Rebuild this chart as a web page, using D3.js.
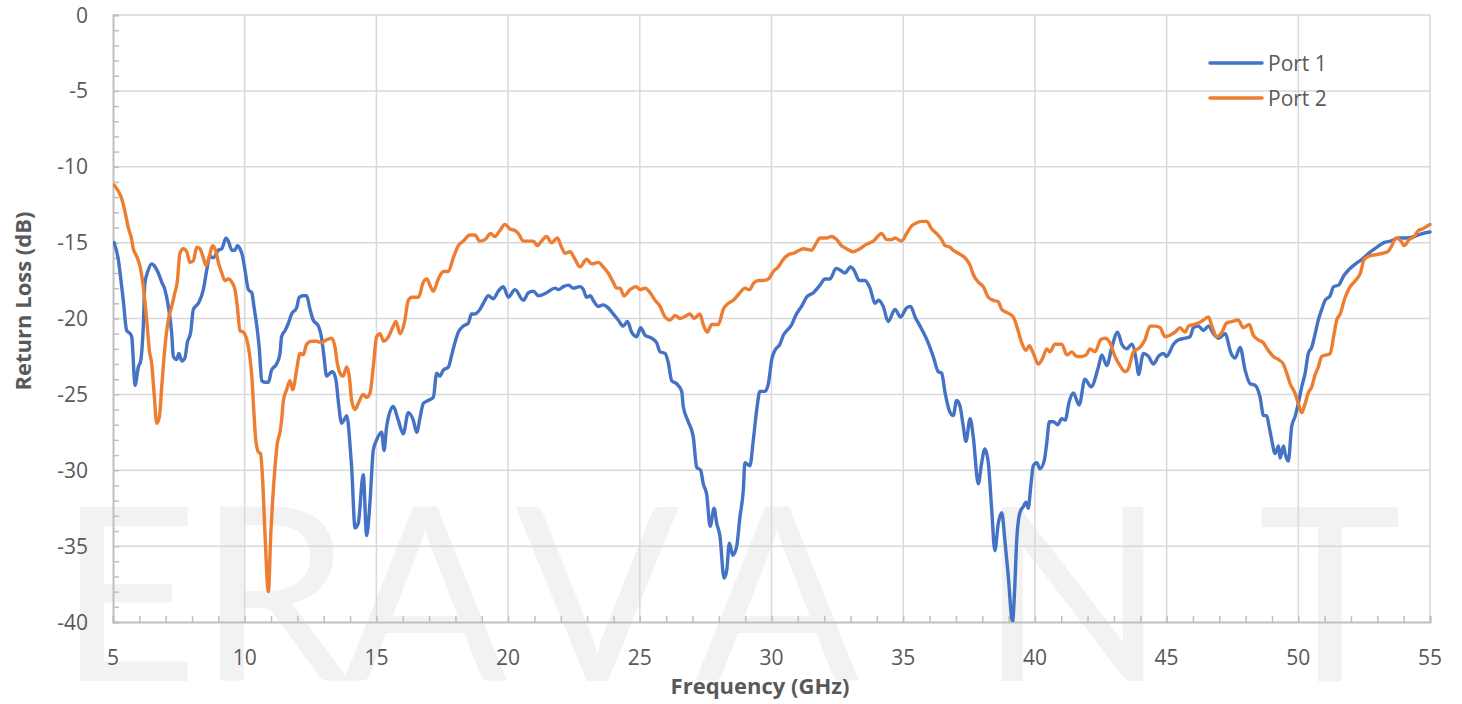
<!DOCTYPE html>
<html>
<head>
<meta charset="utf-8">
<script src="https://cdn.jsdelivr.net/npm/d3@7"></script>
<style>
  body { margin: 0; background: #fff; }
  svg { display: block; }
</style>
</head>
<body>
<svg id="chart" width="1462" height="704"></svg>
<script>

// return loss data (GHz / dB)
var port1Freq = [5.04,5.2,5.33,5.39,5.52,5.65,5.71,5.84,5.96,6.05,6.15,6.21,6.34,6.47,6.6,6.72,6.85,6.97,7.1,7.23,
  7.29,7.42,7.5,7.61,7.73,7.82,7.95,8.05,8.24,8.43,8.56,8.68,8.81,9.0,9.13,9.29,9.38,9.51,9.63,9.72,
  9.82,9.92,10.01,10.14,10.27,10.35,10.46,10.55,10.65,10.77,10.9,11.02,11.21,11.34,11.4,11.53,11.66,11.78,11.97,12.07,
  12.22,12.35,12.48,12.6,12.8,12.92,13.01,13.11,13.24,13.34,13.47,13.55,13.68,13.77,13.87,13.93,14.0,14.06,14.19,14.31,
  14.5,14.63,14.76,14.88,15.01,15.2,15.29,15.39,15.64,15.83,16.02,16.21,16.4,16.53,16.66,16.78,16.97,17.16,17.29,17.41,
  17.54,17.73,17.86,17.98,18.11,18.3,18.49,18.61,18.74,18.93,19.06,19.25,19.44,19.63,19.82,20.01,20.26,20.58,20.77,20.96,
  21.15,21.46,21.78,21.91,22.1,22.29,22.48,22.73,22.86,22.98,23.13,23.23,23.42,23.61,23.8,23.99,24.18,24.37,24.53,24.69,
  24.88,25.03,25.2,25.45,25.64,25.77,25.96,26.08,26.21,26.4,26.59,26.65,26.84,27.03,27.16,27.31,27.41,27.54,27.67,27.82,
  27.92,28.04,28.2,28.3,28.4,28.53,28.68,28.8,28.93,28.99,29.18,29.31,29.44,29.56,29.75,29.88,30.01,30.13,30.32,30.45,
  30.58,30.77,30.89,31.06,31.14,31.33,31.59,31.84,32.03,32.22,32.45,32.6,32.79,33.0,33.13,33.33,33.55,33.74,33.93,34.06,
  34.24,34.43,34.69,34.9,35.13,35.28,35.45,35.64,35.95,36.14,36.33,36.46,36.59,36.78,36.9,37.03,37.16,37.28,37.38,37.54,
  37.66,37.85,37.98,38.1,38.23,38.36,38.48,38.61,38.74,38.86,38.99,39.15,39.24,39.31,39.43,39.56,39.66,39.75,39.84,39.94,
  40.07,40.19,40.35,40.45,40.55,40.7,40.86,41.02,41.15,41.3,41.46,41.68,41.9,42.13,42.41,42.54,42.73,42.92,43.14,43.3,
  43.49,43.68,43.87,43.93,44.12,44.31,44.5,44.69,44.88,45.0,45.26,45.45,45.7,45.89,46.02,46.21,46.4,46.59,46.78,46.97,
  47.22,47.45,47.6,47.79,47.98,48.17,48.36,48.55,48.68,48.8,48.89,48.99,49.12,49.25,49.31,49.44,49.5,49.62,49.75,49.87,
  50.0,50.13,50.26,50.38,50.51,50.64,50.76,50.89,51.02,51.21,51.34,51.53,51.72,51.91,52.17,52.42,52.67,52.99,53.25,53.5,
  53.82,54.08,54.4,54.71,55.0];
var port1Loss = [-15.0,-16.1,-17.9,-18.8,-20.8,-21.0,-21.2,-24.4,-23.2,-22.8,-20.5,-17.7,-16.8,-16.4,-16.6,-17.0,-17.6,-18.1,-19.2,-21.0,
  -22.5,-22.7,-22.3,-22.8,-22.6,-21.6,-20.9,-19.4,-19.0,-18.1,-16.8,-15.9,-16.0,-15.5,-15.4,-14.7,-14.9,-15.5,-15.5,-15.2,
  -15.4,-15.9,-16.8,-18.1,-18.3,-19.2,-20.5,-21.9,-24.1,-24.2,-24.2,-23.4,-23.0,-22.3,-21.2,-20.8,-20.3,-19.7,-19.3,-18.6,
  -18.5,-18.5,-19.4,-20.1,-20.5,-21.3,-22.5,-23.8,-23.6,-23.5,-24.1,-25.4,-26.9,-26.7,-26.4,-26.9,-28.4,-29.8,-33.8,-33.5,
  -30.3,-34.3,-32.0,-28.7,-28.0,-27.5,-28.7,-27.1,-25.8,-26.7,-27.6,-26.2,-26.7,-27.5,-26.5,-25.6,-25.4,-25.2,-23.6,-23.8,
  -23.4,-23.2,-22.4,-21.6,-20.9,-20.5,-20.3,-19.7,-19.7,-19.4,-19.0,-18.5,-18.7,-18.2,-17.9,-18.6,-18.1,-18.8,-18.3,-18.2,
  -18.5,-18.3,-18.0,-18.1,-17.9,-17.8,-18.0,-17.9,-18.1,-18.6,-18.5,-18.8,-19.2,-19.1,-19.3,-19.7,-20.1,-20.5,-20.2,-20.9,
  -21.2,-20.6,-21.1,-21.3,-21.6,-22.2,-22.3,-22.9,-24.1,-24.3,-24.8,-25.8,-26.8,-27.8,-29.8,-30.0,-30.9,-31.6,-33.7,-32.5,
  -33.5,-34.3,-37.1,-36.6,-34.8,-35.6,-35.0,-33.1,-31.3,-29.5,-29.7,-28.0,-26.0,-24.8,-24.8,-24.3,-22.7,-22.1,-21.7,-21.1,
  -20.8,-20.4,-19.9,-19.4,-19.2,-18.6,-18.3,-17.8,-17.4,-17.4,-16.7,-16.8,-17.0,-16.6,-16.8,-17.5,-17.5,-18.0,-19.0,-18.8,
  -19.2,-20.2,-19.4,-19.9,-19.3,-19.2,-19.9,-20.5,-21.6,-22.5,-23.5,-23.6,-24.9,-26.2,-26.4,-25.4,-25.8,-27.1,-28.1,-26.6,
  -27.8,-30.9,-29.5,-28.6,-29.5,-32.6,-35.3,-33.5,-32.8,-34.6,-37.0,-40.0,-37.5,-34.6,-32.8,-32.4,-32.1,-32.5,-31.1,-29.7,
  -29.5,-29.9,-29.4,-28.2,-26.8,-26.8,-27.0,-26.6,-26.7,-25.5,-24.9,-25.7,-24.0,-24.5,-23.2,-22.4,-23.1,-21.9,-20.9,-21.7,
  -22.0,-21.7,-23.0,-23.7,-22.3,-22.5,-23.0,-22.5,-22.3,-22.5,-21.7,-21.4,-21.3,-21.2,-20.6,-20.5,-20.8,-20.5,-21.0,-21.3,
  -21.0,-22.3,-22.6,-21.9,-23.4,-24.3,-24.4,-25.2,-26.4,-26.4,-27.1,-28.0,-28.9,-28.4,-29.2,-28.4,-28.9,-29.4,-27.1,-26.5,
  -25.6,-24.5,-23.6,-22.3,-21.9,-21.0,-20.1,-19.4,-18.8,-18.5,-17.9,-17.8,-17.2,-16.8,-16.4,-16.1,-15.7,-15.3,-15.0,-14.9,
  -14.7,-14.7,-14.6,-14.4,-14.3];

var port2Freq = [5.04,5.2,5.33,5.46,5.58,5.71,5.77,5.9,6.03,6.15,6.28,6.38,6.47,6.56,6.66,6.76,6.85,6.97,7.1,7.23,
  7.35,7.44,7.54,7.67,7.8,7.92,8.05,8.18,8.3,8.43,8.53,8.66,8.78,8.91,9.0,9.13,9.25,9.38,9.51,9.63,
  9.72,9.82,9.95,10.08,10.18,10.27,10.35,10.42,10.52,10.6,10.68,10.77,10.9,10.99,11.06,11.15,11.24,11.34,11.4,11.47,
  11.59,11.72,11.82,11.97,12.1,12.22,12.35,12.54,12.73,12.92,13.11,13.3,13.43,13.52,13.62,13.74,13.87,13.97,14.06,14.19,
  14.31,14.5,14.63,14.76,14.88,15.01,15.14,15.27,15.46,15.64,15.74,15.9,16.07,16.21,16.35,16.6,16.78,16.92,17.03,17.16,
  17.35,17.54,17.73,17.92,18.11,18.3,18.55,18.74,18.93,19.12,19.34,19.5,19.69,19.88,20.07,20.26,20.39,20.58,20.77,20.96,
  21.11,21.27,21.46,21.65,21.87,22.03,22.16,22.35,22.54,22.73,22.98,23.17,23.43,23.61,23.8,23.99,24.12,24.25,24.4,24.63,
  24.86,25.01,25.2,25.39,25.58,25.77,25.96,26.15,26.34,26.53,26.78,26.9,27.06,27.28,27.41,27.56,27.73,27.98,28.17,28.36,
  28.55,28.8,28.99,29.16,29.31,29.5,29.69,29.88,30.07,30.26,30.45,30.64,30.83,31.06,31.21,31.52,31.71,31.84,32.09,32.28,
  32.47,32.66,32.85,33.1,33.36,33.61,33.86,34.18,34.37,34.56,34.69,34.94,35.13,35.32,35.51,35.7,35.89,36.08,36.27,36.46,
  36.59,36.78,36.9,37.09,37.35,37.54,37.66,37.85,38.04,38.23,38.42,38.61,38.74,38.93,39.18,39.31,39.5,39.66,39.79,39.94,
  40.13,40.3,40.45,40.57,40.76,41.02,41.21,41.4,41.59,41.78,41.95,42.09,42.28,42.5,42.66,42.85,43.04,43.23,43.42,43.55,
  43.74,43.99,44.18,44.37,44.56,44.75,44.94,45.13,45.32,45.51,45.7,45.83,46.02,46.21,46.4,46.59,46.72,46.91,47.1,47.28,
  47.47,47.72,47.91,48.14,48.29,48.48,48.67,48.86,49.05,49.24,49.43,49.56,49.69,49.87,50.0,50.13,50.26,50.38,50.51,50.64,
  50.76,50.89,51.08,51.21,51.34,51.46,51.59,51.78,51.97,52.17,52.36,52.5,52.67,52.93,53.2,53.39,53.52,53.71,53.9,54.02,
  54.21,54.4,54.56,54.71,54.9,55.0];
var port2Loss = [-11.2,-11.6,-12.1,-13.0,-14.0,-14.8,-15.4,-15.9,-16.6,-17.9,-20.1,-22.1,-23.0,-24.9,-26.9,-26.5,-24.5,-21.9,-20.1,-19.2,
  -18.3,-17.6,-15.7,-15.4,-15.6,-16.3,-16.2,-15.3,-15.4,-16.0,-16.5,-15.9,-15.2,-15.6,-16.3,-17.0,-17.5,-17.4,-17.6,-18.1,
  -19.2,-20.8,-20.9,-21.4,-22.3,-23.8,-26.2,-28.0,-28.8,-28.9,-30.6,-34.2,-38.0,-34.2,-32.0,-29.8,-28.2,-27.5,-26.7,-25.4,
  -24.7,-24.1,-24.7,-23.4,-22.3,-22.4,-21.7,-21.5,-21.5,-21.6,-21.4,-21.3,-21.9,-23.0,-23.6,-23.8,-23.2,-23.8,-25.4,-26.0,
  -25.6,-25.0,-25.2,-24.9,-23.2,-21.2,-21.0,-21.5,-21.2,-20.5,-20.2,-21.0,-20.2,-18.8,-18.6,-18.6,-17.6,-17.4,-17.8,-18.2,
  -17.4,-16.9,-16.9,-16.0,-15.2,-14.9,-14.5,-14.5,-14.9,-14.8,-14.4,-14.6,-14.2,-13.8,-14.1,-14.2,-14.4,-14.9,-14.9,-14.9,
  -15.2,-14.9,-14.6,-15.0,-14.7,-15.3,-15.7,-15.6,-16.1,-16.6,-16.1,-16.4,-16.3,-16.6,-17.0,-17.6,-18.0,-18.0,-18.5,-18.1,
  -17.9,-18.1,-18.0,-18.3,-18.8,-19.2,-19.9,-20.1,-19.8,-20.0,-19.8,-19.7,-20.0,-19.7,-20.4,-20.9,-20.4,-20.4,-19.4,-19.0,
  -18.8,-18.3,-18.0,-18.1,-17.7,-17.5,-17.5,-17.4,-16.9,-16.6,-16.1,-15.8,-15.7,-15.5,-15.4,-15.5,-15.0,-14.7,-14.7,-14.6,
  -14.8,-15.2,-15.4,-15.6,-15.4,-15.1,-14.9,-14.4,-14.8,-14.8,-14.7,-14.9,-14.4,-13.9,-13.7,-13.6,-13.6,-14.1,-14.4,-14.8,
  -15.2,-15.3,-15.5,-15.7,-16.0,-16.5,-17.1,-17.6,-17.9,-18.6,-18.8,-18.9,-19.4,-19.6,-19.9,-20.5,-21.6,-22.1,-21.8,-22.3,
  -23.0,-22.6,-22.0,-22.2,-21.7,-21.7,-22.4,-22.2,-22.5,-22.5,-22.4,-22.0,-22.2,-21.4,-21.3,-21.6,-22.5,-23.1,-23.5,-23.3,
  -22.2,-21.9,-21.4,-20.5,-20.5,-20.6,-21.2,-21.1,-20.9,-20.6,-20.9,-20.5,-20.4,-20.3,-20.1,-19.9,-20.5,-21.2,-20.9,-20.3,
  -20.2,-20.1,-20.6,-20.4,-21.1,-21.4,-21.6,-22.1,-22.5,-22.7,-23.0,-23.6,-24.3,-24.9,-25.6,-26.2,-25.6,-24.9,-24.5,-23.7,
  -23.2,-22.5,-22.4,-22.3,-21.2,-20.1,-19.7,-18.6,-17.9,-17.5,-17.0,-16.1,-15.9,-15.8,-15.7,-15.6,-15.3,-14.7,-14.9,-15.2,
  -14.8,-14.6,-14.2,-14.1,-13.9,-13.8];

var seriesNames = ["Port 1", "Port 2"];
var seriesColors = ["#4472c4", "#ed7d31"];
var xTicks = [5, 10, 15, 20, 25, 30, 35, 40, 45, 50, 55];
var yTicks = [0, -5, -10, -15, -20, -25, -30, -35, -40];

var svg = d3.select("#chart");
var margin = {left: 113, right: 32, top: 15, bottom: 82};
var width = 1462, height = 704;
var textColor = "#595959";
var fontFam = "'Open Sans', 'Noto Sans', sans-serif";

var x = d3.scaleLinear().domain([5, 55]).range([margin.left, width - margin.right]);
var y = d3.scaleLinear().domain([-40, 0]).range([height - margin.bottom, margin.top]);

// watermark behind everything
var wm = svg.append("g")
    .attr("fill", "#f2f2f2")
    .attr("font-family", "Lato, sans-serif")
    .attr("font-weight", 400)
    .attr("font-size", 243);
wm.selectAll("text")
    .data([["E", 58], ["R", 198], ["A", 343], ["V", 515], ["A", 695], ["N", 980], ["T", 1258]])
    .enter()
    .append("text")
    .attr("x", d => d[1])
    .attr("y", 681)
    .text(d => d[0]);

// gridlines
svg.append("g")
    .selectAll("line")
    .data(yTicks.filter(d => d != -40))
    .enter()
    .append("line")
    .attr("x1", x(5)).attr("x2", x(55))
    .attr("y1", d => y(d)).attr("y2", d => y(d))
    .attr("stroke", "#d9d9d9")
    .attr("stroke-width", 1.5);

svg.append("g")
    .selectAll("line")
    .data(xTicks.filter(d => d != 5))
    .enter()
    .append("line")
    .attr("x1", d => x(d)).attr("x2", d => x(d))
    .attr("y1", y(0)).attr("y2", y(-40))
    .attr("stroke", "#d9d9d9")
    .attr("stroke-width", 1.5);

// axes with minor ticks pointing inward
var xAxis = svg.append("g")
    .attr("transform", `translate(0,${y(-40)})`)
    .call(d3.axisBottom(x).tickValues(d3.range(5, 56, 1)).tickSize(-6).tickFormat(""));
var yAxis = svg.append("g")
    .attr("transform", `translate(${x(5)},0)`)
    .call(d3.axisLeft(y).tickValues(d3.range(-40, 1, 1)).tickSize(-6).tickFormat(""));

[xAxis, yAxis].forEach(function(a){
  a.select(".domain").attr("stroke", "#bfbfbf").attr("stroke-width", 2);
  a.selectAll(".tick line").attr("stroke", "#bfbfbf").attr("stroke-width", 1.5);
});

// tick labels
svg.append("g")
    .selectAll("text")
    .data(xTicks)
    .enter()
    .append("text")
    .attr("x", d => x(d))
    .attr("y", 665)
    .attr("text-anchor", "middle")
    .attr("font-family", fontFam)
    .attr("font-size", 21)
    .attr("fill", textColor)
    .text(d => d);

svg.append("g")
    .selectAll("text")
    .data(yTicks)
    .enter()
    .append("text")
    .attr("x", 88)
    .attr("y", d => y(d) + 7.5)
    .attr("text-anchor", "end")
    .attr("font-family", fontFam)
    .attr("font-size", 21)
    .attr("fill", textColor)
    .text(d => d);

// axis titles
svg.append("text")
    .attr("x", 760)
    .attr("y", 694)
    .attr("text-anchor", "middle")
    .attr("font-family", fontFam)
    .attr("font-weight", "bold")
    .attr("font-size", 22)
    .attr("fill", textColor)
    .text("Frequency (GHz)");

svg.append("text")
    .attr("transform", "translate(31,301) rotate(-90)")
    .attr("text-anchor", "middle")
    .attr("font-family", fontFam)
    .attr("font-weight", "bold")
    .attr("font-size", 22)
    .attr("fill", textColor)
    .text("Return Loss (dB)");

// clip the traces to the plot area
svg.append("defs").append("clipPath")
    .attr("id", "plot-clip")
    .append("rect")
    .attr("x", x(5)).attr("y", y(0) - 2)
    .attr("width", x(55) - x(5) + 2)
    .attr("height", y(-40) - y(0) + 2);

var series = [
  {name: seriesNames[0], color: seriesColors[0], pts: port1Freq.map((f, i) => [f, port1Loss[i]])},
  {name: seriesNames[1], color: seriesColors[1], pts: port2Freq.map((f, i) => [f, port2Loss[i]])}
];

var line = d3.line()
    .x(d => x(d[0]))
    .y(d => y(Math.max(d[1], -40)))
    .curve(d3.curveMonotoneX);

svg.append("g")
    .attr("clip-path", "url(#plot-clip)")
    .selectAll("path")
    .data(series)
    .enter()
    .append("path")
    .attr("d", d => line(d.pts))
    .attr("fill", "none")
    .attr("stroke", d => d.color)
    .attr("stroke-width", 3.4)
    .attr("stroke-linejoin", "round")
    .attr("stroke-linecap", "round");

// legend
var legend = svg.append("g")
    .selectAll("g")
    .data(series)
    .enter()
    .append("g")
    .attr("transform", (d, i) => `translate(1210,${63 + i * 35})`);

legend.append("line")
    .attr("x1", 0).attr("x2", 52)
    .attr("stroke", d => d.color)
    .attr("stroke-width", 3.5)
    .attr("stroke-linecap", "round");

legend.append("text")
    .attr("x", 58)
    .attr("y", 7.5)
    .attr("font-family", fontFam)
    .attr("font-size", 21)
    .attr("fill", textColor)
    .text(d => d.name);

</script>
</body>
</html>
